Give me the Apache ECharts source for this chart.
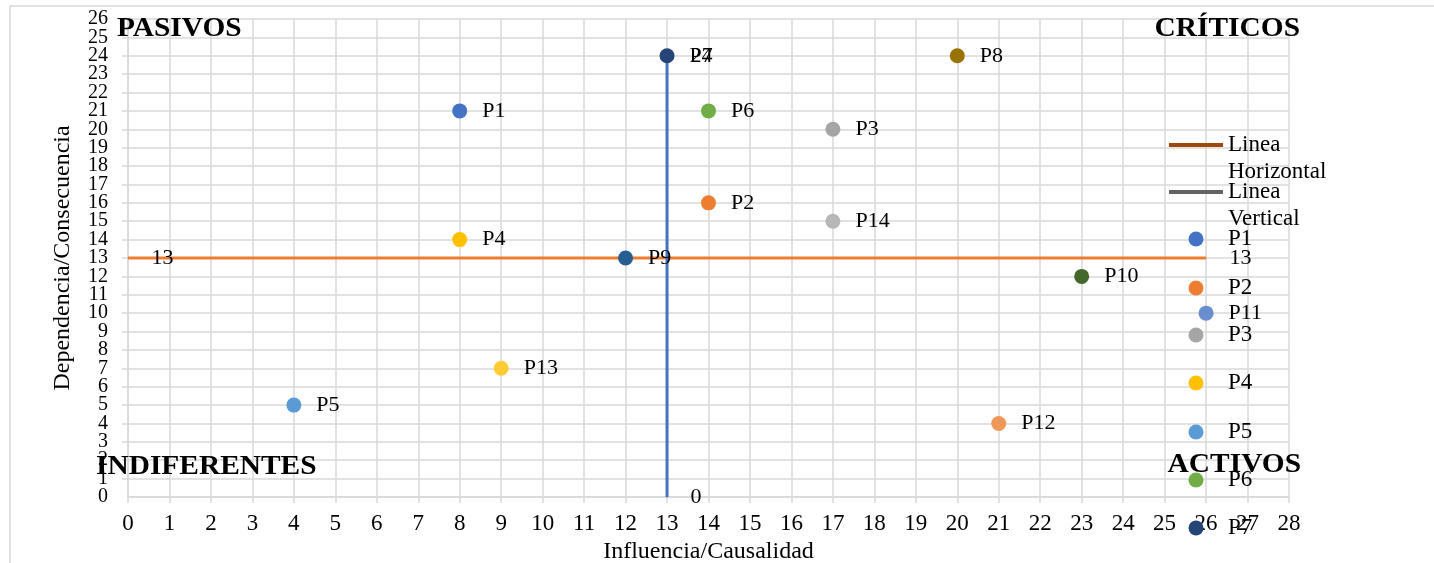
<!DOCTYPE html>
<html>
<head>
<meta charset="utf-8">
<script src="https://cdn.jsdelivr.net/npm/echarts@6/dist/echarts.min.js"></script>
<style>
  html, body { margin: 0; padding: 0; background: #fff; }
  #chart { width: 1434px; height: 563px; }
</style>
</head>
<body>
<div id="chart"></div>
<script>
// Problem points: [Influencia/Causalidad, Dependencia/Consecuencia]
const pointNames = ['P1','P2','P3','P4','P5','P6','P7','P8','P9','P10','P11','P12','P13','P14'];
const influencia = [8, 14, 17, 8, 4, 14, 13, 20, 12, 23, 26, 21, 9, 17];
const dependencia = [21, 16, 20, 14, 5, 21, 24, 24, 13, 12, 10, 4, 7, 15];
const pointColors = ['#4472C4','#ED7D31','#A5A5A5','#FFC000','#5B9BD5','#70AD47','#264478',
                     '#997300','#255E91','#43682B','#698ED0','#F1975A','#FFCD33','#B7B7B7'];

// Reference lines dividing the quadrants
const lineaHorizontal = [[0, 13], [26, 13]];
const lineaVertical = [[13, 0], [13, 24]];

// Axis ranges
const xMin = 0, xMax = 28, yMin = 0, yMax = 26;

// Legend entries shown (in order) and their marker colours
const legendLines = [
  { name: 'Linea Horizontal', text: ' \nLinea\nHorizontal', color: '#9E480E' },
  { name: 'Linea Vertical', text: ' \nLinea\nVertical', color: '#636363' }
];
const legendPoints = ['P1','P2','P3','P4','P5','P6','P7'];

// Quadrant names
const quadrants = [
  { text: 'PASIVOS', x: 117, y: 29, align: 'left' },
  { text: 'CRÍTICOS', x: 1300, y: 29, align: 'right' },
  { text: 'INDIFERENTES', x: 96, y: 467, align: 'left' },
  { text: 'ACTIVOS', x: 1301, y: 465, align: 'right' }
];

const FONT = '"Liberation Serif", "Times New Roman", serif';
const gridColor = '#D9D9D9';

const series = [
  {
    name: 'Linea Horizontal',
    type: 'line',
    data: lineaHorizontal,
    symbol: 'circle',
    symbolSize: 1,
    lineStyle: { color: '#ED7D31', width: 3 },
    itemStyle: { color: '#ED7D31' },
    label: {
      show: true, position: 'right', distance: 23,
      formatter: p => p.value[1],
      fontFamily: FONT, fontSize: 22, color: '#000'
    },
    z: 2
  },
  {
    name: 'Linea Vertical',
    type: 'line',
    data: lineaVertical,
    symbol: 'circle',
    symbolSize: 1,
    lineStyle: { color: '#4472C4', width: 3 },
    itemStyle: { color: '#4472C4' },
    label: {
      show: true, position: 'right', distance: 23,
      formatter: p => p.value[1],
      fontFamily: FONT, fontSize: 22, color: '#000'
    },
    z: 3
  }
];

pointNames.forEach((n, i) => {
  series.push({
    name: n,
    type: 'scatter',
    data: [[influencia[i], dependencia[i]]],
    symbol: 'circle',
    symbolSize: 15,
    itemStyle: { color: pointColors[i], opacity: 1 },
    label: {
      show: true, position: 'right', distance: 15,
      formatter: n,
      fontFamily: FONT, fontSize: 22, color: '#000'
    },
    z: 5
  });
});

// One legend block per entry so that each row sits at a fixed height
const legends = [];
const rowCenters = [145, 192, 239, 288, 335, 383, 432, 480, 528];
const legendText = { fontFamily: FONT, fontSize: 23, color: '#000', lineHeight: 27 };
legendLines.forEach((l, i) => {
  legends.push({
    left: 1169, top: rowCenters[i] - 40.5, padding: 0, orient: 'vertical',
    icon: 'rect', itemWidth: 54, itemHeight: 4,
    itemStyle: { color: l.color, borderWidth: 0 },
    data: [{ name: l.name, icon: 'rect', itemStyle: { color: l.color, borderWidth: 0 } }],
    formatter: () => l.text,
    textStyle: legendText
  });
});
legendPoints.forEach((n, i) => {
  legends.push({
    left: 1188.5, top: rowCenters[i + 2] - 13.5, padding: 0, orient: 'vertical',
    icon: 'circle', itemWidth: 54, itemHeight: 15,
    itemStyle: { borderWidth: 0 },
    data: [{ name: n, icon: 'circle' }],
    textStyle: legendText
  });
});

const quadrantFont = 'bold 28px ' + FONT;

const graphics = [
  { type: 'rect', z: -10, silent: true,
    shape: { x: 10, y: 6, width: 1440, height: 600 },
    style: { fill: 'none', stroke: gridColor, lineWidth: 1.5 } }
];
quadrants.forEach(q => {
  graphics.push({
    type: 'text', z: 50, silent: true, x: q.x, y: q.y, scaleX: 1.05,
    style: { text: q.text, font: quadrantFont, fill: '#000', align: q.align, verticalAlign: 'middle' }
  });
});

const yLabelStyle = { fontFamily: FONT, fontSize: 20, color: '#000', margin: 20 };

const option = {
  animation: false,
  backgroundColor: '#fff',
  grid: { left: 128, right: 145, top: 19, bottom: 66, containLabel: false, outerBoundsMode: 'none' },
  xAxis: {
    type: 'value', min: xMin, max: xMax, interval: 1,
    name: 'Influencia/Causalidad', nameLocation: 'middle', nameGap: 43,
    nameTextStyle: { fontFamily: FONT, fontSize: 24, color: '#000' },
    axisLine: { show: true, lineStyle: { color: gridColor, width: 1.5 } },
    axisTick: { show: true, length: 6, lineStyle: { color: gridColor, width: 1.5 } },
    axisLabel: { fontFamily: FONT, fontSize: 23, color: '#000', margin: 15,
                 showMinLabel: true, showMaxLabel: true, hideOverlap: false },
    splitLine: { show: true, lineStyle: { color: gridColor, width: 1.5 } }
  },
  yAxis: [
    {
      // main value axis: grid, ticks and the inner labels 1..25
      type: 'value', min: yMin, max: yMax, interval: 1,
      name: 'Dependencia/Consecuencia', nameLocation: 'middle', nameGap: 53,
      nameTextStyle: { fontFamily: FONT, fontSize: 24, color: '#000' },
      axisLine: { show: true, lineStyle: { color: gridColor, width: 1.5 } },
      axisTick: { show: true, length: 6, lineStyle: { color: gridColor, width: 1.5 } },
      axisLabel: Object.assign({ showMinLabel: false, showMaxLabel: false, hideOverlap: false }, yLabelStyle),
      splitLine: { show: true, lineStyle: { color: gridColor, width: 1.5 } }
    },
    {
      // end labels 0 and 26 on the same scale
      type: 'value', min: yMin, max: yMax, interval: yMax - yMin, position: 'left',
      axisLine: { show: false }, axisTick: { show: false }, splitLine: { show: false },
      axisLabel: Object.assign({ showMinLabel: true, showMaxLabel: true }, yLabelStyle)
    }
  ],
  legend: legends,
  graphic: graphics,
  series: series
};

const chart = echarts.init(document.getElementById('chart'), null, { renderer: 'canvas' });
chart.setOption(option);
</script>
</body>
</html>
